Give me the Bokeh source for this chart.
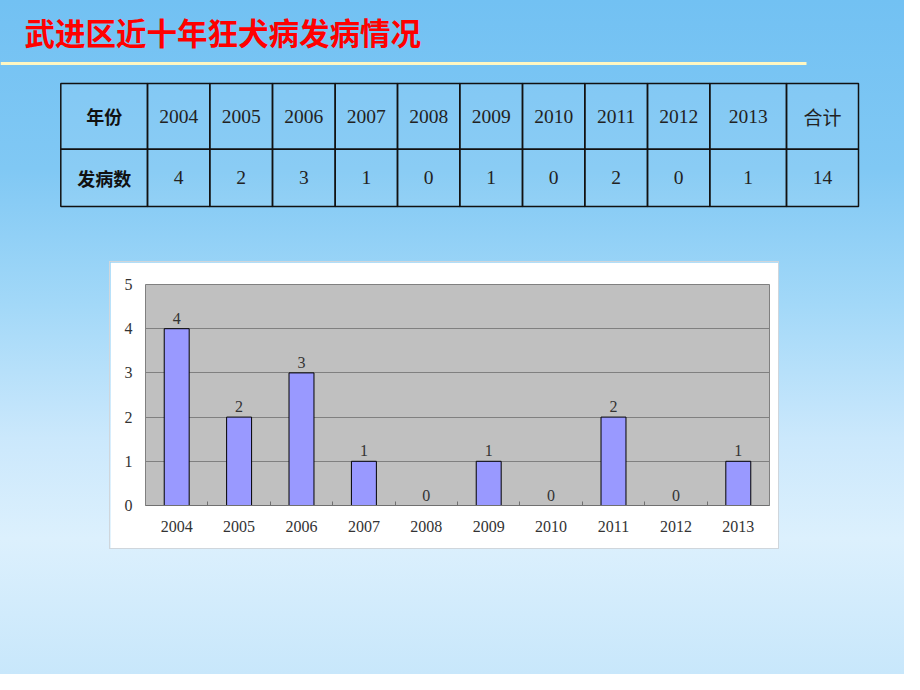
from bokeh.plotting import figure
from bokeh.models import Range1d, FixedTicker, ColumnDataSource, LabelSet, Spacer
from bokeh.layouts import column, row
from bokeh.embed import file_html
from bokeh.resources import INLINE
from bokeh.core.properties import value

# ---------------- data ----------------
title = "武进区近十年狂犬病发病情况"
years = ["2004", "2005", "2006", "2007", "2008", "2009", "2010", "2011", "2012", "2013"]
cases = [4, 2, 3, 1, 0, 1, 0, 2, 0, 1]
row_heads = ["年份", "发病数"]
total_label = "合计"
total_value = 14
y_ticks = [0, 1, 2, 3, 4, 5]

# ---------------- layout constants ----------------
W, H = 904, 674
TOP_H = 262
BOX_L, BOX_W, BOX_H = 110, 668, 286
col_edges = [60.3, 147, 209.3, 272, 334.7, 397, 459.3, 522, 584.3, 647, 709.3, 786, 858]
row_edges = [83, 148.7, 206]

SERIF = value("Liberation Serif")
CJK = value("Noto Sans CJK SC")

# ---------------- top: title + table ----------------
top = figure(width=W, height=TOP_H, x_range=Range1d(0, W), y_range=Range1d(TOP_H, 0),
             output_backend="svg", toolbar_location=None, x_axis_type=None, y_axis_type=None,
             min_border=0, outline_line_color=None, background_fill_alpha=0, border_fill_alpha=0)
top.xgrid.visible = False
top.ygrid.visible = False

top.text(x=[24], y=[31], text=[title], text_color="#ff0000", text_font=CJK,
         text_font_size="30.5px", text_font_style="bold", text_align="left", text_baseline="middle")
top.segment(x0=[0], y0=[63], x1=[806], y1=[63], line_color="#fff7c2", line_width=3)

lefts, rights, tops_, bottoms = [], [], [], []
for r in range(2):
    for c in range(len(col_edges) - 1):
        lefts.append(col_edges[c]); rights.append(col_edges[c + 1])
        tops_.append(row_edges[r]); bottoms.append(row_edges[r + 1])
top.quad(left=lefts, right=rights, top=tops_, bottom=bottoms,
         fill_color="white", fill_alpha=0.08, line_color="#111111", line_width=1.5)

cx = [(col_edges[i] + col_edges[i + 1]) / 2 for i in range(len(col_edges) - 1)]
cy = [(row_edges[i] + row_edges[i + 1]) / 2 for i in range(2)]

# row header cells
top.text(x=[cx[0], cx[0]], y=cy, text=row_heads, text_color="#111111", text_font=CJK,
         text_font_size="18px", text_font_style="bold", text_align="center", text_baseline="middle")
# total header
top.text(x=[cx[-1]], y=[cy[0]], text=[total_label], text_color="#222222", text_font=CJK,
         text_font_size="19px", text_align="center", text_baseline="middle")
# years and values
num_x = cx[1:-1] + cx[1:-1] + [cx[-1]]
num_y = [cy[0]] * len(years) + [cy[1]] * len(cases) + [cy[1]]
num_t = years + [str(v) for v in cases] + [str(total_value)]
top.text(x=num_x, y=num_y, text=num_t, text_color="#222222", text_font=SERIF,
         text_font_size="19.5px", text_align="center", text_baseline="middle")

# ---------------- bar chart ----------------
xpos = [i + 0.5 for i in range(len(years))]
src = ColumnDataSource(dict(x=xpos, y=cases, lbl=[str(v) for v in cases]))

p = figure(width=BOX_W, height=BOX_H, x_range=Range1d(0, len(years)), y_range=Range1d(0, 5),
           output_backend="svg", toolbar_location=None,
           min_border_left=35, min_border_right=9, min_border_top=22, min_border_bottom=43,
           background_fill_color="#c0c0c0", border_fill_color="white",
           outline_line_color="#808080")
p.styles = {"outline": "1px solid #cfd6dc"}

p.vbar(x="x", top="y", width=0.4, source=src, fill_color="#9999ff",
       line_color="#000000", line_width=1)
p.add_layout(LabelSet(x="x", y="y", text="lbl", source=src, y_offset=5,
                      text_align="center", text_baseline="bottom",
                      text_font=SERIF, text_font_size="16px", text_color="#333333"))

p.xaxis.ticker = FixedTicker(ticks=xpos, minor_ticks=[i for i in range(1, len(years))])
p.xaxis.major_label_overrides = {x: y for x, y in zip(xpos, years)}
p.xaxis.major_tick_in = 0
p.xaxis.major_tick_out = 0
p.xaxis.minor_tick_in = 4
p.xaxis.minor_tick_out = 0
p.xaxis.minor_tick_line_color = "#707070"
p.xaxis.axis_line_color = "#707070"
p.xaxis.major_label_standoff = 15

p.yaxis.ticker = FixedTicker(ticks=y_ticks)
p.yaxis.major_tick_in = 0
p.yaxis.major_tick_out = 0
p.yaxis.minor_tick_line_color = None
p.yaxis.axis_line_color = None
p.yaxis.major_label_standoff = 13

for ax in (p.xaxis, p.yaxis):
    ax.major_label_text_font = "Liberation Serif"
    ax.major_label_text_font_size = "16px"
    ax.major_label_text_color = "#333333"

p.xgrid.visible = False
p.ygrid.grid_line_color = "#808080"
p.ygrid.grid_line_width = 1

bg = ("linear-gradient(180deg, #72c1f3 0%, #80c8f4 25%, #a2d8f8 45%, "
      "#cbe8fc 65%, #dcf0fd 80%, #c8e7fb 100%)")

layout = column(
    top,
    row(Spacer(width=BOX_L, height=BOX_H), p, Spacer(width=W - BOX_L - BOX_W, height=BOX_H)),
    Spacer(width=W, height=H - TOP_H - BOX_H),
    styles={"background": bg},
)

open("out.html", "w").write(file_html(layout, INLINE))
